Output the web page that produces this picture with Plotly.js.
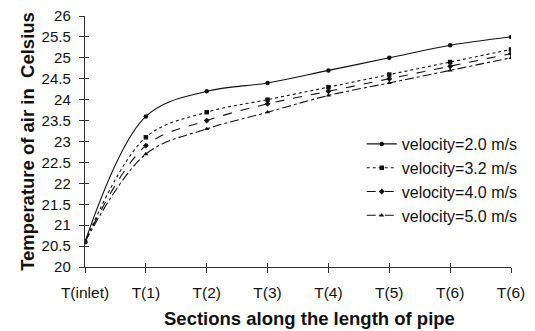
<!DOCTYPE html>
<html><head><meta charset="utf-8">
<script src="https://cdn.plot.ly/plotly-3.0.1.min.js"></script>
<style>html,body{margin:0;padding:0;background:#fff}#c{width:535px;height:331px}</style>
</head><body><div id="c"></div>
<script>
const positions = [0, 1, 2, 3, 4, 5, 6, 7];
const tickLabels = ["T(inlet)", "T(1)", "T(2)", "T(3)", "T(4)", "T(5)", "T(6)", "T(6)"];
const v20 = [20.6, 23.6, 24.2, 24.4, 24.7, 25.0, 25.3, 25.5];
const v32 = [20.6, 23.1, 23.7, 24.0, 24.3, 24.6, 24.9, 25.2];
const v40 = [20.6, 22.9, 23.5, 23.9, 24.2, 24.5, 24.8, 25.1];
const v50 = [20.6, 22.7, 23.3, 23.7, 24.1, 24.4, 24.7, 25.0];
const names = ["velocity=2.0 m/s", "velocity=3.2 m/s", "velocity=4.0 m/s", "velocity=5.0 m/s"];
const xTitle = "Sections along the length of pipe";
const yTitle = "Temperature of air in  Celsius";

const font = "Liberation Sans, Arial, sans-serif";
function tr(y, name, dash, sym, g) {
  return {x: positions, y: y, name: name, mode: "lines+markers", type: "scatter",
    legendgroup: g,
    line: {color: "#111", width: 1.1, dash: dash, shape: "spline", smoothing: 1},
    marker: {color: "#111", size: 4.5, symbol: sym}};
}
const data = [
  tr(v20, names[0], "solid", "circle", "a"),
  tr(v32, names[1], "dot", "square", "b"),
  tr(v40, names[2], "dash", "diamond", "c"),
  tr(v50, names[3], "dashdot", "triangle-up", "d"),
  {x: [0], y: [20], xaxis: "x2", yaxis: "y2", mode: "markers", marker: {opacity: 0}, showlegend: false, hoverinfo: "skip"}
];
const L = 85, R = 19, T = 16, B = 64, W = 535, H = 331;
const pw = W - L - R, ph = H - T - B;
const axBase = {showgrid: false, zeroline: false, showline: true, linecolor: "#333", linewidth: 1.2,
  tickcolor: "#333", fixedrange: true};
const layout = {
  width: W, height: H,
  margin: {l: L, r: R, t: T, b: B},
  paper_bgcolor: "#fff", plot_bgcolor: "#fff",
  font: {family: font, size: 15, color: "#111"},
  showlegend: true,
  legend: {x: (365 - L) / pw, y: (H - B - 180) / ph, yanchor: "middle", bgcolor: "rgba(0,0,0,0)",
    font: {size: 16, color: "#111"}, tracegroupgap: 0},
  xaxis: Object.assign({}, axBase, {range: [0, 7], tickvals: positions, ticktext: tickLabels,
    ticks: "outside", ticklen: 5, ticklabelstandoff: 6, tickfont: {size: 15.5}}),
  yaxis: Object.assign({}, axBase, {range: [20, 26], dtick: 0.5,
    ticks: "outside", ticklen: 5, ticklabelstandoff: 5, tickfont: {size: 15}},
  ),
  xaxis2: Object.assign({}, axBase, {overlaying: "x", range: [0, 7], tickvals: positions,
    ticks: "inside", ticklen: 4, showticklabels: false, side: "bottom"}),
  yaxis2: Object.assign({}, axBase, {overlaying: "y", range: [20, 26], dtick: 0.5,
    ticks: "inside", ticklen: 4, showticklabels: false, side: "left"}),
  annotations: [{text: "<b>" + xTitle + "</b>", xref: "paper", yref: "paper",
    x: (312 - L) / pw, y: (H - B - 318) / ph, xanchor: "center", yanchor: "middle",
    showarrow: false, font: {size: 18.5, color: "#111"}}]
};
layout.yaxis.title = {text: "<b>" + yTitle + "</b>", font: {size: 18.5}, standoff: 2};
Plotly.newPlot("c", data, layout, {staticPlot: true, displayModeBar: false});
</script></body></html>
